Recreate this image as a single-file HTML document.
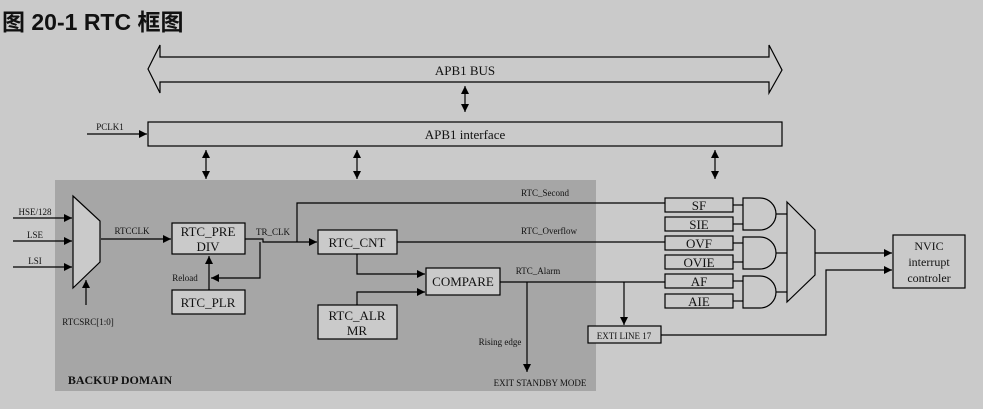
<!DOCTYPE html>
<html><head><meta charset="utf-8"><style>
html,body{margin:0;padding:0;background:#cacaca;width:983px;height:409px;overflow:hidden}
svg{display:block}
text{font-family:"Liberation Serif",serif;fill:#111}
</style></head><body>
<svg width="983" height="409" viewBox="0 0 983 409" xmlns="http://www.w3.org/2000/svg">
<defs>
<marker id="a" viewBox="0 0 10 10" refX="10" refY="5" markerWidth="9" markerHeight="8" orient="auto-start-reverse" markerUnits="userSpaceOnUse"><path d="M0,0L10,5L0,10z" fill="#000"/></marker>
</defs>
<rect width="983" height="409" fill="#cacaca"/>
<text x="2" y="30" style="font-family:'Liberation Sans','Noto Sans CJK SC',sans-serif;font-weight:bold;font-size:23px">图 20-1 RTC 框图</text>
<g stroke="#000" stroke-width="1.2" fill="none">
<path d="M148,69 L160,45 L160,57 L769,57 L769,45 L782,70 L769,93 L769,82 L160,82 L160,93 Z" fill="#cacaca"/>
<rect x="148" y="122" width="634" height="24" fill="#cacaca"/>
<line x1="87" y1="134" x2="147" y2="134" marker-end="url(#a)"/>
<line x1="465" y1="86" x2="465" y2="112" marker-start="url(#a)" marker-end="url(#a)"/>
<line x1="206" y1="150" x2="206" y2="179" marker-start="url(#a)" marker-end="url(#a)"/>
<line x1="357" y1="150" x2="357" y2="179" marker-start="url(#a)" marker-end="url(#a)"/>
<line x1="715" y1="150" x2="715" y2="179" marker-start="url(#a)" marker-end="url(#a)"/>
</g>
<rect x="55" y="180" width="541" height="211" fill="#a6a6a6"/>
<g stroke="#000" stroke-width="1.2" fill="none">
<path d="M73,196 L100,221 L100,262 L73,288 Z" fill="#cacaca"/>
<line x1="13" y1="218" x2="72" y2="218" marker-end="url(#a)"/>
<line x1="13" y1="241" x2="72" y2="241" marker-end="url(#a)"/>
<line x1="13" y1="267" x2="72" y2="267" marker-end="url(#a)"/>
<line x1="86" y1="305" x2="86" y2="280" marker-end="url(#a)"/>
<line x1="101" y1="239" x2="171" y2="239" marker-end="url(#a)"/>
<rect x="172" y="223" width="73" height="31" fill="#cacaca"/>
<rect x="172" y="290" width="73" height="24" fill="#cacaca"/>
<line x1="209" y1="290" x2="209" y2="256" marker-end="url(#a)"/>
<polyline points="245,239 263,239 263,242 317,242" marker-end="url(#a)"/>
<polyline points="260,242 260,278 211,278" marker-end="url(#a)"/>
<polyline points="297,242 297,203 684,203" marker-end="url(#a)"/>
<rect x="318" y="230" width="79" height="24" fill="#cacaca"/>
<line x1="397" y1="242" x2="684" y2="242" marker-end="url(#a)"/>
<polyline points="357,254 357,274 425,274" marker-end="url(#a)"/>
<rect x="318" y="305" width="79" height="34" fill="#cacaca"/>
<polyline points="357,305 357,292 425,292" marker-end="url(#a)"/>
<rect x="426" y="268" width="74" height="27" fill="#cacaca"/>
<line x1="500" y1="282" x2="684" y2="282" marker-end="url(#a)"/>
<line x1="527" y1="282" x2="527" y2="372" marker-end="url(#a)"/>
<line x1="624" y1="282" x2="624" y2="325" marker-end="url(#a)"/>
<rect x="588" y="326" width="73" height="17" fill="#cacaca"/>
<polyline points="661,335 826,335 826,270 892,270" marker-end="url(#a)"/>
<rect x="665" y="198" width="68" height="14" fill="#cacaca"/>
<rect x="665" y="217" width="68" height="14" fill="#cacaca"/>
<rect x="665" y="236" width="68" height="14" fill="#cacaca"/>
<rect x="665" y="255" width="68" height="14" fill="#cacaca"/>
<rect x="665" y="274" width="68" height="14" fill="#cacaca"/>
<rect x="665" y="294" width="68" height="14" fill="#cacaca"/>
<g>
<path d="M743,198 L760,198 A16,16 0 0 1 760,230 L743,230 Z"/>
<path d="M743,237 L760,237 A16,16 0 0 1 760,269 L743,269 Z"/>
<path d="M743,276 L760,276 A16,16 0 0 1 760,308 L743,308 Z"/>
<line x1="733" y1="205" x2="743" y2="205"/><line x1="733" y1="224" x2="743" y2="224"/>
<line x1="733" y1="243" x2="743" y2="243"/><line x1="733" y1="262" x2="743" y2="262"/>
<line x1="733" y1="281" x2="743" y2="281"/><line x1="733" y1="301" x2="743" y2="301"/>
<line x1="776" y1="214" x2="787" y2="214"/><line x1="776" y1="253" x2="787" y2="253"/><line x1="776" y1="292" x2="787" y2="292"/>
</g>
<path d="M787,202 L815,230 L815,275 L787,302 Z"/>
<line x1="815" y1="253" x2="892" y2="253" marker-end="url(#a)"/>
<rect x="893" y="235" width="72" height="53" fill="#cacaca"/>
</g>
<g font-size="13" text-anchor="middle">
<text x="465" y="75">APB1 BUS</text>
<text x="465" y="139">APB1 interface</text>
<text x="208" y="236">RTC_PRE</text><text x="208" y="251">DIV</text>
<text x="208" y="307">RTC_PLR</text>
<text x="357" y="247">RTC_CNT</text>
<text x="357" y="320">RTC_ALR</text><text x="357" y="335">MR</text>
<text x="463" y="286">COMPARE</text>
<text x="699" y="210">SF</text><text x="699" y="229">SIE</text><text x="699" y="248">OVF</text>
<text x="699" y="267">OVIE</text><text x="699" y="286">AF</text><text x="699" y="306">AIE</text>
<text x="929" y="250" font-size="12">NVIC</text><text x="929" y="266" font-size="12">interrupt</text><text x="929" y="282" font-size="12">controler</text>
</g>
<g font-size="9" text-anchor="middle">
<text x="110" y="130">PCLK1</text>
<text x="35" y="215">HSE/128</text><text x="35" y="238">LSE</text><text x="35" y="264">LSI</text>
<text x="88" y="325">RTCSRC[1:0]</text>
<text x="132" y="234">RTCCLK</text>
<text x="273" y="235">TR_CLK</text>
<text x="185" y="281">Reload</text>
<text x="545" y="196">RTC_Second</text>
<text x="549" y="234">RTC_Overflow</text>
<text x="538" y="274">RTC_Alarm</text>
<text x="500" y="345">Rising edge</text>
<text x="540" y="386">EXIT STANDBY MODE</text>
<text x="624" y="339">EXTI LINE 17</text>
<text x="120" y="384" font-size="12" font-weight="bold">BACKUP DOMAIN</text>
</g>
</svg>
</body></html>
